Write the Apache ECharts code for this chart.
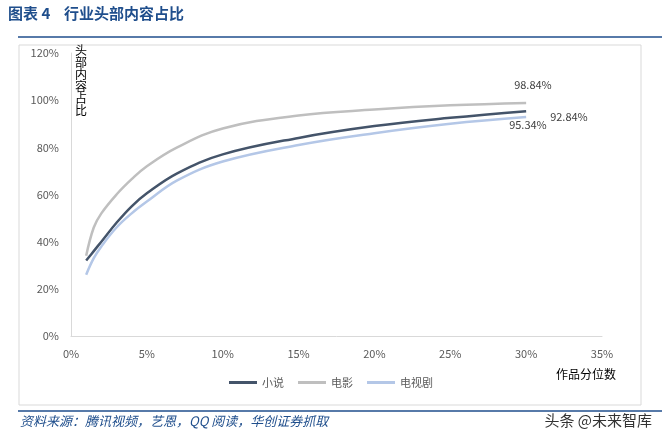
<!DOCTYPE html>
<html><head><meta charset="utf-8">
<script src="https://cdn.jsdelivr.net/npm/echarts@6/dist/echarts.min.js"></script>
<style>html,body{margin:0;padding:0;background:#fff}#c{width:662px;height:443px}</style>
</head><body><div id="c"></div>
<script>
// x: 作品分位数 (%)
const xs = [1, 1.5, 2, 3, 4, 5, 7, 10, 15, 20, 25, 30];
const novel = [32, 36, 40, 48, 55, 60.5, 69, 77, 84, 89, 92.5, 95.34];
const movie = [34, 46, 52, 60, 66.5, 72, 80, 88, 93.5, 96, 97.8, 98.84];
const tv = [26, 33, 38, 46, 52, 57, 66, 74, 81, 86, 90, 92.84];
const names = ['小说', '电影', '电视剧'];
const colors = ['#44546A', '#BFBFBF', '#B4C7E7'];
const endLabels = ['95.34%', '98.84%', '92.84%'];
const labelOffsets = [[-25, 14], [-20, -18], [16, 0]];

const chart = echarts.init(document.getElementById('c'));
const pair = a => a.map((v, i) => [xs[i], v]);
const series = [novel, movie, tv].map((d, k) => ({
  name: names[k], type: 'line', smooth: 0.4, showSymbol: false, data: pair(d),
  lineStyle: { width: 2.5, color: colors[k] }, itemStyle: { color: colors[k] },
  endLabel: { show: true, formatter: endLabels[k], color: '#404040', fontSize: 11,
    offset: labelOffsets[k] }
}));
chart.setOption({
  animation: false,
  textStyle: { fontFamily: 'Noto Sans CJK SC' },
  graphic: [
    { type: 'text', left: 8, top: 6, style: { text: '图表 4    行业头部内容占比', fill: '#1F4E8C', font: 'bold 15px "Noto Sans CJK SC"' } },
    { type: 'line', shape: { x1: 18, y1: 37, x2: 662, y2: 37 }, style: { stroke: '#1F4E8C', lineWidth: 1.5 } },
    { type: 'rect', shape: { x: 19, y: 45, width: 622, height: 360 }, style: { fill: 'none', stroke: '#D9D9D9' } },
    { type: 'line', shape: { x1: 18, y1: 411, x2: 662, y2: 411 }, style: { stroke: '#1F4E8C', lineWidth: 1.5 } },
    { type: 'text', left: 20, top: 415, style: { text: '资料来源：腾讯视频，艺恩，QQ 阅读，华创证券抓取', fill: '#1F4E8C', font: 'italic 13px "Noto Sans CJK SC"' } },
    { type: 'text', right: 10, top: 413, style: { text: '头条 @未来智库', fill: '#333', font: '15px "Noto Sans CJK SC"' } },
    { type: 'text', left: 75, top: 44, style: { text: '头\n部\n内\n容\n占\n比', fill: '#000', font: '12px "Noto Sans CJK SC"', lineHeight: 12 } },
    { type: 'text', left: 556, top: 368, style: { text: '作品分位数', fill: '#000', font: '12px "Noto Sans CJK SC"' } }
  ],
  grid: { left: 71, right: 60, top: 53, bottom: 107 },
  legend: { bottom: 50, left: 'center', itemWidth: 28, itemHeight: 3, icon: 'rect', itemGap: 14,
    textStyle: { color: '#595959', fontSize: 11 }, data: names },
  xAxis: { type: 'value', min: 0, max: 35, interval: 5,
    axisLabel: { formatter: '{value}%', color: '#595959', fontSize: 11, margin: 12 },
    axisLine: { show: true, lineStyle: { color: '#D9D9D9' } }, axisTick: { show: false }, splitLine: { show: false } },
  yAxis: { type: 'value', min: 0, max: 120, interval: 20,
    axisLabel: { formatter: '{value}%', color: '#595959', fontSize: 11, margin: 12 },
    axisLine: { show: true, lineStyle: { color: '#D9D9D9' } }, axisTick: { show: false }, splitLine: { show: false } },
  series
});
</script></body></html>
